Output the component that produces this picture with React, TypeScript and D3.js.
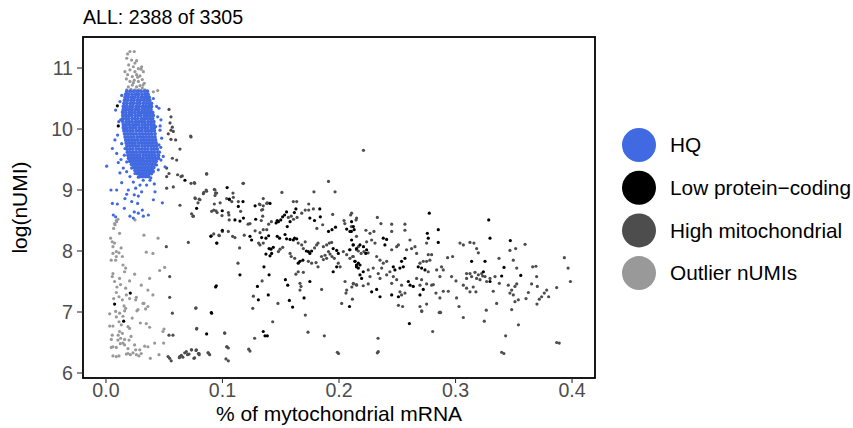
import React from "react";
import * as d3 from "d3";

// ---------- DATA ----------
const title = "ALL: 2388 of 3305";
const xTicks = [0, 0.1, 0.2, 0.3, 0.4];
const yTicks = [6, 7, 8, 9, 10, 11];
const legendLabels = ["HQ", "Low protein\u2212coding", "High mitochondrial", "Outlier nUMIs"];
const legendColors = ["#4169E1", "#000000", "#4D4D4D", "#999999"];

// HQ dense core: each row = [logUMI, ...mito fractions]
const hqCoreRows: number[][] = [
  [10.62, .018, .021, .024, .027, .030, .033, .0355],
  [10.57, .017, .0195, .0225, .0255, .028, .031, .034, .036],
  [10.52, .0165, .019, .022, .0245, .0275, .0305, .033, .0355, .037],
  [10.47, .016, .0185, .0215, .024, .027, .0295, .0325, .035, .0375],
  [10.42, .0155, .018, .021, .0235, .0265, .029, .032, .0345, .037, .039],
  [10.37, .015, .0175, .0205, .023, .026, .0285, .0315, .034, .0365, .039],
  [10.32, .015, .0175, .020, .0225, .0255, .028, .031, .0335, .036, .0385],
  [10.27, .0145, .017, .020, .0225, .025, .028, .0305, .033, .0355, .038, .040],
  [10.22, .0145, .017, .0195, .022, .025, .0275, .030, .033, .0355, .038, .0405],
  [10.17, .0145, .017, .0195, .0225, .025, .0275, .0305, .033, .0355, .038, .040],
  [10.12, .0145, .0175, .020, .0225, .0255, .028, .0305, .033, .036, .0385, .041],
  [10.07, .015, .0175, .020, .023, .0255, .028, .031, .0335, .036, .0385, .041],
  [10.02, .015, .0175, .0205, .023, .0255, .0285, .031, .0335, .036, .039, .0415],
  [9.97, .0155, .018, .0205, .023, .026, .0285, .031, .034, .0365, .039, .0415],
  [9.92, .016, .0185, .021, .0235, .026, .029, .0315, .034, .0365, .039, .042],
  [9.87, .0165, .019, .0215, .024, .027, .0295, .032, .0345, .037, .0395, .042],
  [9.82, .017, .0195, .022, .0245, .027, .030, .0325, .035, .0375, .040, .0425],
  [9.77, .0175, .020, .0225, .025, .028, .0305, .033, .0355, .038, .0405, .043],
  [9.72, .018, .0205, .023, .0255, .028, .031, .0335, .036, .0385, .041, .0435],
  [9.67, .018, .0205, .023, .026, .0285, .031, .0335, .036, .039, .0415, .044],
  [9.62, .0185, .021, .0235, .026, .029, .0315, .034, .0365, .039, .0415, .0445],
  [9.57, .019, .0215, .024, .0265, .029, .032, .0345, .037, .0395, .042, .045],
  [9.52, .0195, .022, .0245, .027, .0295, .032, .035, .0375, .040, .0425, .045],
  [9.47, .0205, .023, .0255, .028, .0305, .033, .0355, .038, .0405, .043],
  [9.42, .022, .0245, .027, .0295, .032, .0345, .037, .0395, .042],
  [9.37, .0235, .026, .0285, .031, .0335, .036, .0385, .041],
  [9.32, .025, .0275, .030, .0325, .035, .0375, .040],
  [9.27, .027, .0295, .032, .0345, .037, .039],
  [9.22, .029, .0315, .034, .0365],
];

const hqScatter: [number, number][] = [
  [.0083, 10.31], [.014, 10.28], [.0126, 10.15], [.0158, 9.99], [.010, 9.90], [.0077, 9.82], [.0135, 9.76],
  [.0055, 9.68], [.0092, 9.60], [.0163, 9.68], [.0158, 9.57], [.0129, 9.50], [.0178, 9.46], [.0006, 9.39],
  [.0106, 9.45], [.0149, 9.36], [.0178, 9.30], [.012, 9.28], [.022, 9.36], [.0206, 9.22], [.0249, 9.27],
  [.0278, 9.21], [.032, 9.16], [.0378, 9.16], [.0349, 9.08], [.0292, 9.08], [.0415, 9.10], [.0255, 9.03],
  [.0043, 9.00], [.0092, 9.00], [.0192, 9.00], [.0306, 8.97], [.0421, 8.97], [.0178, 8.93], [.0243, 8.92],
  [.0163, 8.86], [.0278, 8.90], [.0221, 8.81], [.0055, 8.78], [.0098, 8.77], [.0484, 8.79], [.0407, 8.84],
  [.0272, 8.78], [.0158, 8.70], [.0243, 8.64], [.0278, 8.62], [.0312, 8.67], [.0364, 8.59], [.0321, 8.57],
  [.0063, 8.59], [.0083, 8.56], [.0206, 8.57], [.0235, 8.54], [.0407, 10.50], [.0435, 10.37], [.0455, 10.34],
  [.0444, 10.20], [.0472, 10.15], [.0427, 10.04], [.0464, 9.98], [.0478, 9.85], [.0455, 9.74], [.0492, 9.55],
  [.0472, 9.49], [.0435, 9.41], [.0449, 9.33], [.0407, 9.30], [.0507, 9.38], [.046, 9.62], [.047, 9.70],
  [.012, 10.45], [.0135, 10.55], [.011, 10.12], [.0465, 10.05], [.0385, 9.20], [.0235, 9.13], [.0135, 9.12],
];

const lowProteinCoding: [number, number][] = [
  [.0098, 10.38], [.0106, 10.05], [.0678, 9.16], [.104, 9.04], [.0778, 8.70], [.1176, 8.81], [.1136, 8.73],
  [.1107, 8.51], [.115, 8.49], [.118, 8.54], [.0999, 8.34], [.090, 8.24], [.095, 8.13], [.1408, 8.78],
  [.1285, 8.52], [.146, 8.46], [.147, 8.50], [.148, 8.48], [.150, 8.51], [.1516, 8.56], [.1533, 8.59],
  [.155, 8.64], [.1617, 8.63], [.163, 8.69], [.158, 8.48], [.1556, 8.40], [.175, 8.54], [.179, 8.50],
  [.1835, 8.69], [.184, 8.56], [.191, 8.32], [.194, 8.35], [.197, 8.39], [.2066, 8.36], [.2106, 8.32],
  [.213, 8.35], [.1236, 8.24], [.125, 8.18], [.1336, 8.22], [.1373, 8.21], [.1396, 8.25], [.140, 8.04],
  [.1416, 8.03], [.1436, 8.06], [.1373, 7.95], [.1408, 7.92], [.1422, 7.96], [.147, 8.24], [.149, 8.21],
  [.1537, 8.27], [.155, 8.20], [.158, 8.19], [.1608, 8.18], [.1618, 8.21], [.1637, 8.20], [.1665, 7.83],
  [.165, 7.80], [.169, 7.85], [.172, 8.00], [.1737, 7.99], [.175, 7.96], [.1765, 8.00], [.195, 8.04],
  [.198, 8.01], [.1994, 7.96], [.195, 7.66], [.198, 7.74], [.2137, 7.83], [.215, 7.77], [.2166, 7.80],
  [.209, 7.09], [.175, 7.50], [.170, 7.23], [.156, 7.44], [.154, 7.53], [.1574, 7.19], [.1602, 7.08],
  [.1393, 7.28], [.140, 7.61], [.1356, 7.74], [.130, 7.42], [.1308, 7.20], [.135, 6.68], [.1365, 6.61],
  [.1385, 6.61], [.115, 7.61], [.0947, 7.43], [.0904, 6.99], [.0864, 6.64], [.2108, 8.48], [.2123, 8.40],
  [.2094, 8.32], [.2108, 8.18], [.2123, 8.10], [.2094, 8.02], [.215, 8.04], [.218, 8.10], [.221, 8.07],
  [.2237, 8.02], [.223, 7.96], [.238, 8.21], [.2409, 8.19], [.2394, 8.10], [.215, 7.74], [.2166, 7.72],
  [.218, 7.77], [.2208, 7.66], [.218, 7.61], [.2194, 7.55], [.228, 7.33], [.2323, 7.37], [.2352, 7.25],
  [.2466, 7.74], [.248, 7.69], [.2523, 7.72], [.2552, 7.74], [.2537, 7.83], [.2566, 7.88], [.2595, 7.50],
  [.261, 7.44], [.2637, 7.42], [.2452, 7.28], [.251, 7.25], [.268, 7.74], [.2709, 7.72], [.2738, 7.69],
  [.2758, 8.29], [.2766, 8.21], [.2852, 8.35], [.2852, 8.14], [.2695, 7.28], [.2723, 7.37], [.2604, 6.81],
  [.2775, 8.62], [.3285, 8.51], [.3296, 8.21], [.347, 8.17], [.3138, 7.83], [.3253, 7.83], [.3239, 7.66],
  [.3296, 7.50], [.3396, 7.59], [.3416, 7.73], [.356, 7.60], [.0209, 7.31], [.0074, 7.13], [.0152, 6.85],
  [.0907, 6.98], [.0941, 7.41], [.1059, 8.85], [.0998, 8.66], [.128, 8.74],
];

const highMito: [number, number][] = [
  [.0541, 10.32], [.0558, 10.20], [.055, 10.10], [.057, 10.03], [.0558, 9.98], [.0578, 9.96], [.0535, 9.92],
  [.0558, 9.83], [.0598, 9.82], [.0635, 9.67], [.057, 9.52], [.0607, 9.49], [.0521, 9.36], [.0541, 9.27],
  [.0521, 9.22], [.0615, 9.25], [.0644, 9.22], [.0655, 9.23], [.073, 9.11], [.0758, 9.12], [.0578, 9.05],
  [.0521, 9.03], [.073, 9.87], [.0635, 8.75], [.0864, 9.26], [.1176, 9.11], [.0764, 8.87], [.079, 8.79],
  [.0807, 8.84], [.0836, 8.94], [.0864, 8.98], [.0936, 9.00], [.095, 8.95], [.1093, 8.88], [.1136, 8.81],
  [.1322, 8.76], [.1345, 8.68], [.138, 8.78], [.0954, 8.63], [.0925, 8.67], [.1051, 8.63], [.0735, 8.61],
  [.0925, 8.28], [.0727, 9.885], [.0864, 9.27], [.0761, 9.11], [.0767, 8.86], [.080, 8.85], [.075, 8.57],
  [.084, 8.96], [.086, 9.00], [.093, 9.01], [.094, 8.95], [.0936, 8.91], [.1036, 8.86], [.106, 8.84],
  [.108, 8.81], [.109, 8.95], [.118, 9.11], [.093, 8.77], [.098, 8.79], [.0907, 8.65], [.0944, 8.66],
  [.0996, 8.58], [.1156, 8.65], [.1058, 8.51], [.0973, 8.25], [.105, 8.32], [.1087, 8.24], [.1107, 8.22],
  [.1187, 8.26], [.1147, 8.05], [.122, 8.44], [.1236, 8.45], [.1316, 8.77], [.135, 8.74], [.1336, 8.67],
  [.135, 8.86], [.1385, 8.79], [.1333, 8.50], [.1345, 8.57], [.1396, 8.44], [.142, 8.48], [.151, 8.96],
  [.1565, 8.55], [.159, 8.57], [.1608, 8.81], [.1637, 8.81], [.161, 8.52], [.164, 8.55], [.168, 8.62],
  [.171, 8.67], [.174, 8.77], [.174, 8.67], [.178, 8.69], [.1785, 8.97], [.191, 9.14], [.1966, 8.97],
  [.1946, 8.60], [.186, 8.43], [.181, 8.37], [.2043, 8.50], [.205, 8.45], [.210, 8.59], [.2146, 8.51],
  [.2106, 8.40], [.215, 8.24], [.2166, 8.07], [.128, 8.33], [.1322, 8.30], [.135, 8.35], [.138, 8.35],
  [.131, 8.13], [.1322, 8.10], [.135, 8.13], [.148, 7.99], [.1494, 8.03], [.1517, 8.06], [.165, 8.13],
  [.168, 8.10], [.171, 8.15], [.1694, 8.04], [.158, 7.96], [.159, 7.91], [.162, 7.88], [.179, 8.05],
  [.1808, 8.10], [.182, 8.13], [.1737, 7.83], [.1765, 7.80], [.1803, 7.81], [.182, 7.74], [.185, 7.91],
  [.1866, 7.86], [.188, 7.93], [.1894, 7.88], [.191, 7.99], [.1923, 7.95], [.1866, 8.07], [.1894, 8.10],
  [.1917, 8.13], [.1937, 8.14], [.194, 7.91], [.196, 7.88], [.1994, 7.80], [.201, 7.74], [.2037, 7.99],
  [.2066, 7.94], [.209, 8.02], [.2117, 7.91], [.212, 8.10], [.215, 8.02], [.2166, 8.00], [.2052, 7.50],
  [.2066, 7.36], [.206, 7.31], [.211, 7.41], [.2123, 7.46], [.215, 7.45], [.2023, 7.14], [.2115, 7.21],
  [.1851, 7.37], [.1711, 6.95], [.1734, 6.67], [.1665, 7.47], [.1674, 7.42], [.1665, 7.36], [.163, 7.62],
  [.165, 7.66], [.1694, 7.65], [.1476, 7.14], [.134, 7.51], [.1265, 7.26], [.126, 7.06], [.1431, 6.84],
  [.1276, 6.57], [.1225, 6.39], [.1133, 7.80], [.0773, 7.07], [.0778, 6.72], [.1019, 6.66], [.1036, 6.43],
  [.103, 6.23], [.0878, 6.33], [.0735, 6.38], [.0773, 6.37], [.0793, 6.32], [.0755, 6.24], [.1874, 6.61],
  [.1986, 6.34], [.1055, 8.59],
  [.2108, 8.62], [.2151, 8.54], [.219, 7.96], [.2214, 7.99], [.225, 7.97], [.2123, 7.91], [.2094, 7.88],
  [.2137, 7.83], [.2231, 8.34], [.2266, 8.29], [.230, 8.32], [.2237, 8.15], [.228, 8.18], [.2309, 8.13],
  [.2329, 8.55], [.236, 8.45], [.2452, 8.44], [.2452, 8.32], [.2566, 8.44], [.2566, 8.34], [.2495, 8.07],
  [.251, 8.10], [.2452, 8.02], [.2323, 7.91], [.2352, 7.85], [.238, 7.80], [.2409, 7.83], [.2366, 7.72],
  [.2251, 7.69], [.2266, 7.58], [.2294, 7.72], [.2123, 7.47], [.2151, 7.44], [.2208, 7.43], [.2251, 7.46],
  [.2337, 7.63], [.2352, 7.55], [.2409, 7.61], [.2437, 7.66], [.258, 8.02], [.2609, 8.18], [.2623, 8.04],
  [.2652, 8.07], [.2666, 7.96], [.2466, 7.58], [.2452, 7.47], [.2495, 7.53], [.2537, 7.44], [.2523, 7.33],
  [.2537, 7.28], [.2566, 7.31], [.251, 7.11], [.2546, 7.09], [.2695, 7.80], [.2723, 7.83], [.2752, 7.83],
  [.278, 7.85], [.2766, 7.94], [.2766, 7.66], [.2838, 7.69], [.288, 7.74], [.2895, 7.69], [.2866, 7.58],
  [.2752, 8.13], [.2795, 7.94], [.2666, 7.55], [.2709, 7.53], [.2695, 7.44], [.2752, 7.46], [.2795, 7.44],
  [.281, 7.45], [.2695, 7.09], [.271, 7.01], [.2752, 7.13], [.2832, 7.31], [.2866, 7.23], [.286, 6.99],
  [.2895, 7.34], [.2938, 7.34], [.2932, 7.89], [.2975, 7.91], [.2966, 7.58], [.3004, 7.51], [.3009, 7.23],
  [.3038, 8.13], [.3067, 8.10], [.3124, 8.14], [.3158, 8.13], [.3181, 8.04], [.3196, 7.97], [.3095, 7.63],
  [.3124, 7.63], [.3167, 7.65], [.3196, 7.61], [.3233, 7.59], [.3224, 7.63], [.3095, 7.55], [.3138, 7.58],
  [.3181, 7.55], [.321, 7.53], [.3067, 7.44], [.3095, 7.39], [.3124, 7.33], [.3152, 7.41], [.3175, 7.33],
  [.3253, 7.58], [.3296, 7.55], [.3267, 7.50], [.3339, 7.58], [.3373, 7.88], [.3324, 7.34], [.3376, 7.47],
  [.3453, 7.44], [.3467, 7.31], [.3482, 7.36], [.3496, 7.28], [.351, 7.42], [.3525, 7.46], [.3467, 8.01],
  [.3516, 8.04], [.3496, 7.85], [.3525, 7.72], [.351, 7.17], [.3539, 7.20], [.3353, 7.14], [.3482, 7.04],
  [.3605, 7.22], [.3625, 7.32], [.3653, 7.46], [.3662, 7.74], [.369, 7.75], [.3696, 7.58], [.3702, 7.42],
  [.3699, 7.13], [.3719, 7.21], [.3739, 7.25], [.3762, 7.31], [.3782, 7.36], [.3799, 7.25], [.2872, 6.99],
  [.221, 9.65], [.3597, 8.11], [.3934, 7.89], [.3966, 7.72], [.3986, 7.50], [.3868, 7.40], [.3868, 6.50],
  [.3396, 6.34], [.343, 6.61], [.354, 6.79], [.2804, 6.68], [.2335, 6.57], [.2337, 6.35], [.3247, 6.85],
  [.3264, 7.03], [.3067, 6.91], [.303, 7.09], [.2867, 7.00], [.271, 7.02],
  [.0518, 8.07], [.0547, 7.58], [.0547, 7.24], [.057, 6.98], [.0541, 6.62], [.0575, 6.62], [.0547, 6.24],
  [.0533, 6.27], [.0633, 6.27], [.0647, 6.29], [.0676, 6.33], [.069, 6.35], [.0713, 6.31], [.0733, 6.38],
  [.0776, 6.38], [.0799, 6.32], [.0761, 6.25], [.0707, 8.14], [.0747, 8.57], [.077, 7.06], [.0779, 6.73],
  [.0876, 6.33], [.0904, 8.25], [.0953, 8.13], [.097, 8.26], [.0999, 8.32], [.1019, 6.65], [.1039, 6.43],
  [.056, 6.20], [.063, 6.25], [.066, 6.26], [.070, 6.30], [.080, 6.30], [.089, 6.30], [.105, 6.41],
  [.105, 6.20], [.1236, 6.36], [.1996, 6.32], [.2329, 6.33], [.3415, 6.32], [.389, 6.49],
];

const outlierNUMI: [number, number][] = [
  [.0206, 11.27], [.0186, 11.23], [.0243, 11.27], [.0178, 11.16], [.022, 11.13], [.0249, 11.08], [.0263, 11.12],
  [.0235, 11.02], [.0278, 10.99], [.0163, 10.94], [.0206, 10.97], [.0249, 10.94], [.0306, 11.02], [.0186, 10.89],
  [.0226, 10.86], [.0263, 10.89], [.0292, 10.87], [.0321, 10.94], [.0206, 10.78], [.0243, 10.80], [.0278, 10.78],
  [.0312, 10.81], [.0329, 10.75], [.0192, 10.69], [.0226, 10.72], [.0263, 10.69], [.0292, 10.71], [.0249, 10.64],
  [.0215, 10.65], [.0283, 10.64], [.0312, 10.67], [.0407, 10.61], [.0444, 10.63], [.0235, 10.76], [.0178, 10.64],
  [.0335, 10.64], [.0302, 10.98], [.0175, 10.82], [.0195, 11.05], [.0272, 10.85], [.0318, 10.72],
  [.0092, 8.48], [.0078, 8.43], [.0249, 8.51],
  [.0074, 8.45], [.0066, 8.37], [.0089, 8.50], [.0103, 8.52], [.0117, 8.29], [.004, 8.21], [.0054, 8.15],
  [.0074, 8.13], [.006, 8.07], [.0089, 7.99], [.0112, 7.97], [.006, 7.96], [.0141, 7.91], [.0089, 7.91],
  [.0083, 7.85], [.0146, 7.77], [.0169, 7.72], [.006, 7.63], [.0054, 7.58], [.0117, 7.55], [.016, 7.66],
  [.0074, 7.50], [.0094, 7.41], [.0169, 7.39], [.0089, 7.32], [.0175, 7.28], [.0066, 7.22], [.0112, 7.25],
  [.0141, 7.20], [.0203, 7.22], [.0246, 7.62], [.0203, 7.51], [.0303, 7.44], [.0326, 8.26], [.0346, 7.98],
  [.0403, 7.96], [.0375, 7.55], [.036, 7.36], [.0403, 7.28], [.0261, 7.24], [.0255, 7.20], [.0318, 7.14],
  [.0275, 7.04], [.0266, 7.02], [.0032, 6.97], [.0083, 7.01], [.0117, 6.98], [.0089, 6.92], [.0169, 7.06],
  [.016, 7.02], [.0146, 6.93], [.0032, 6.77], [.006, 6.77], [.0112, 6.84], [.0132, 6.79], [.0117, 6.68],
  [.0141, 6.65], [.0189, 6.76], [.0203, 6.73], [.0295, 6.82], [.0346, 6.81], [.0375, 6.75], [.0046, 6.55],
  [.0103, 6.54], [.0126, 6.57], [.016, 6.55], [.0198, 6.54], [.006, 6.43], [.0089, 6.42], [.0123, 6.48],
  [.016, 6.46], [.0189, 6.40], [.006, 6.28], [.0089, 6.27], [.0112, 6.28], [.0175, 6.31], [.0209, 6.30],
  [.0232, 6.33], [.0255, 6.38], [.0261, 6.30], [.029, 6.38], [.0303, 6.32], [.0283, 6.28], [.0332, 6.44],
  [.036, 6.43], [.0418, 6.49], [.0381, 6.24], [.0455, 6.30], [.0495, 6.49], [.0046, 6.42], [.0146, 6.49],
  [.0189, 6.32], [.0246, 6.46], [.0054, 6.62], [.0498, 6.72], [.0489, 6.68], [.036, 7.09], [.0326, 7.14],
  [.034, 7.05], [.0447, 8.21], [.0504, 7.73], [.0461, 7.68], [.0125, 7.45], [.0045, 7.85], [.013, 8.05],
  [.0155, 7.10], [.0225, 6.90], [.0105, 6.62], [.0215, 6.60],
];

// ---------- CHART ----------
const W = 853;
const H = 428;
const panel = { left: 83, right: 595, top: 37, bottom: 378 };
const FONT = "Liberation Sans, Arial, Helvetica, sans-serif";

export default function App() {
  const x = d3.scaleLinear().domain([-0.0197, 0.4197]).range([panel.left, panel.right]);
  const y = d3.scaleLinear().domain([5.918, 11.508]).range([panel.bottom, panel.top]);
  const fmt = d3.format(".1f");

  const hqCore: [number, number][] = [];
  hqCoreRows.forEach((row) => {
    const yy = row[0];
    row.slice(1).forEach((xx) => hqCore.push([xx, yy]));
  });

  const layers: { pts: [number, number][]; color: string; r: number }[] = [
    { pts: outlierNUMI, color: legendColors[3], r: 1.6 },
    { pts: highMito, color: legendColors[2], r: 1.6 },
    { pts: lowProteinCoding, color: legendColors[1], r: 1.6 },
    { pts: hqScatter, color: legendColors[0], r: 1.6 },
    { pts: hqCore, color: legendColors[0], r: 1.95 },
  ];

  return (
    <svg width={W} height={H} style={{ position: "absolute", left: 0, top: 0, background: "#fff" }} fontFamily={FONT}>
      <rect x={0} y={0} width={W} height={H} fill="#fff" />
      <text x={panel.left} y={24} fontSize={19.6} fill="#000">{title}</text>

      <g>
        {layers.map((l, li) =>
          l.pts.map((p, i) => (
            <circle key={li + "-" + i} cx={x(p[0])} cy={y(p[1])} r={l.r} fill={l.color} />
          ))
        )}
      </g>

      <rect x={panel.left} y={panel.top} width={panel.right - panel.left} height={panel.bottom - panel.top}
        fill="none" stroke="#000" strokeWidth={1.8} />

      {xTicks.map((t) => (
        <g key={"x" + t}>
          <line x1={x(t)} x2={x(t)} y1={panel.bottom} y2={panel.bottom + 5} stroke="#333" strokeWidth={1.1} />
          <text x={x(t)} y={397} textAnchor="middle" fontSize={19.6} fill="#4D4D4D">{fmt(t)}</text>
        </g>
      ))}
      {yTicks.map((t) => (
        <g key={"y" + t}>
          <line x1={panel.left - 6} x2={panel.left} y1={y(t)} y2={y(t)} stroke="#333" strokeWidth={1.1} />
          <text x={panel.left - 10} y={y(t)} dy="0.35em" textAnchor="end" fontSize={19.6} fill="#4D4D4D">{t}</text>
        </g>
      ))}

      <text x={(panel.left + panel.right) / 2} y={421} textAnchor="middle" fontSize={21} fill="#000">
        % of mytochondrial mRNA
      </text>
      <text transform={`translate(27,${(panel.top + panel.bottom) / 2}) rotate(-90)`} textAnchor="middle" fontSize={21} fill="#000">
        log(nUMI)
      </text>

      {legendLabels.map((lab, i) => (
        <g key={lab} transform={`translate(639,${145 + i * 42.7})`}>
          <circle cx={0} cy={0} r={17} fill={legendColors[i]} />
          <text x={31} y={0} dy="0.35em" fontSize={20.8} fill="#000">{lab}</text>
        </g>
      ))}
    </svg>
  );
}
